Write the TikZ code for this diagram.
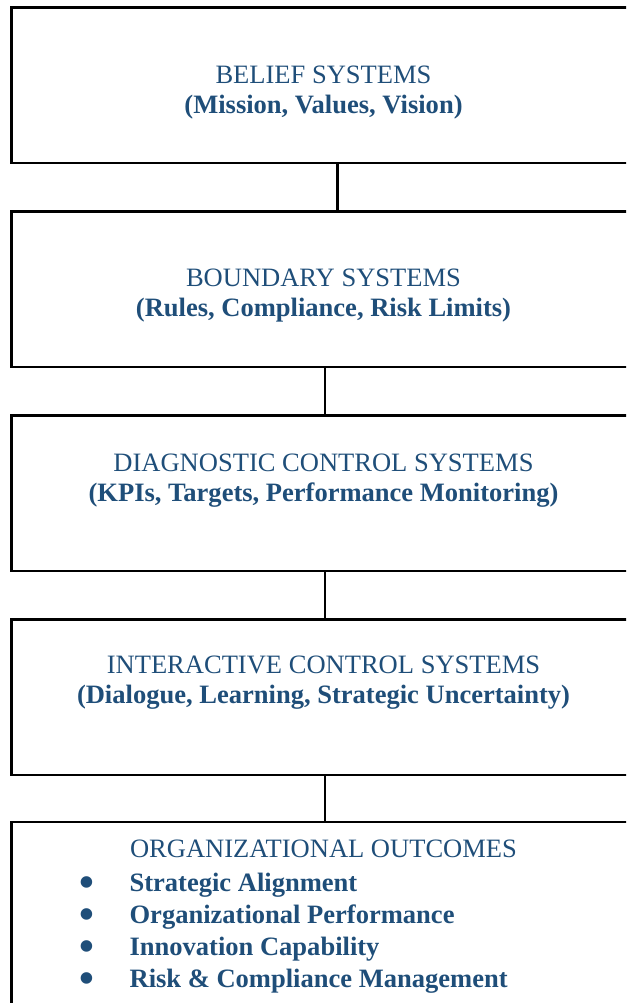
\documentclass[tikz,border=0pt]{standalone}
\usepackage{fontspec}
\setmainfont{Liberation Serif}
\usetikzlibrary{positioning}
\definecolor{navytext}{HTML}{1F4E79}
\tikzset{
  levelbox/.style={
    rectangle, draw=black, line width=1.9pt, outer sep=0pt,
    minimum width=467.7pt, minimum height=116.6pt
  },
  leveltext/.style={
    font=\fontsize{19.9pt}{22.5pt}\selectfont, text=navytext,
    align=center, inner sep=0pt
  },
  outcomelist/.style={
    font=\fontsize{19.9pt}{24pt}\selectfont\bfseries, text=navytext,
    align=left, inner sep=0pt
  },
  linkline/.style={draw=black, line width=1.9pt},
}
\newcommand{\outcomeitem}[1]{%
  \makebox[37.3pt][l]{\smash{\raisebox{-3.8pt}{\scalebox{1.6}{\textbullet}}}}#1}

\begin{document}
\begin{tikzpicture}[x=0.75pt, y=-0.75pt]
  \useasboundingbox (0,0) rectangle (626,1003);
  \clip (0,0) rectangle (626,1003);

  % the four levers of control, top to bottom
  \node[levelbox] (belief) at (323.5,85.25) {};
  \node[levelbox, below=36.4pt of belief] (boundary) {};
  \node[levelbox, below=36.4pt of boundary] (diagnostic) {};
  \node[levelbox, below=36.4pt of diagnostic] (interactive) {};
  \node[levelbox, below=35.3pt of interactive, minimum height=160pt] (outcomes) {};

  % box texts
  \node[leveltext, below=43.9pt of belief.north] (beliefText)
    {BELIEF SYSTEMS\\\textbf{(Mission, Values, Vision)}};
  \node[leveltext, below=43pt of boundary.north] (boundaryText)
    {BOUNDARY SYSTEMS\\\textbf{(Rules, Compliance, Risk Limits)}};
  \node[leveltext, below=28.3pt of diagnostic.north] (diagnosticText)
    {DIAGNOSTIC CONTROL SYSTEMS\\\textbf{(KPIs, Targets, Performance Monitoring)}};
  \node[leveltext, below=27pt of interactive.north] (interactiveText)
    {INTERACTIVE CONTROL SYSTEMS\\\textbf{(Dialogue, Learning, Strategic Uncertainty)}};
  \node[leveltext, below=13.5pt of outcomes.north] (outcomesTitle)
    {ORGANIZATIONAL OUTCOMES};
  \node[outcomelist, anchor=north west] (outcomeList) at (79.6,872.7)
    {\outcomeitem{Strategic Alignment}\\
     \outcomeitem{Organizational Performance}\\
     \outcomeitem{Innovation Capability}\\
     \outcomeitem{Risk \& Compliance Management}};

  % links between levels
  \draw[linkline] ([xshift=10.3pt]belief.south) -- ([xshift=10.3pt]boundary.north);
  \draw[linkline] ([xshift=1.1pt]boundary.south) -- ([xshift=1.1pt]diagnostic.north);
  \draw[linkline] ([xshift=1.1pt]diagnostic.south) -- ([xshift=1.1pt]interactive.north);
  \draw[linkline] ([xshift=1.1pt]interactive.south) -- ([xshift=1.1pt]outcomes.north);
\end{tikzpicture}
\end{document}
